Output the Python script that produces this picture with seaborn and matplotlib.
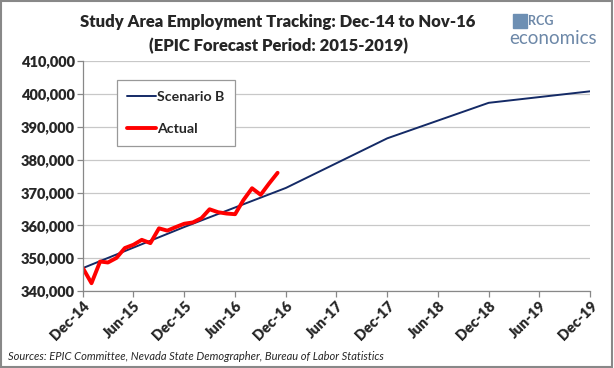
import matplotlib
matplotlib.use("Agg")
import matplotlib.pyplot as plt
import matplotlib.ticker as mticker
import numpy as np
import pandas as pd
import seaborn as sns

# Scenario B forecast (annual points)
scenario_dates = pd.to_datetime(["2014-12-01", "2015-12-01", "2016-12-01",
                                 "2017-12-01", "2018-12-01", "2019-12-01"])
scenario_b = [347000, 359500, 371400, 386500, 397300, 400800]

# Actual monthly employment, Dec-14 .. Nov-16
actual_dates = pd.date_range("2014-12-01", periods=24, freq="MS")
actual = [347000, 342400, 349000, 348700, 350100, 353100,
          354100, 355600, 354600, 359100, 358400, 359500,
          360500, 360900, 362200, 364900, 364000, 363600,
          363400, 367700, 371300, 369300, 372700, 376000]

tick_dates = pd.date_range("2014-12-01", "2019-12-01", freq="6MS")
tick_labels = [d.strftime("%b-%y") for d in tick_dates]

sns.set_theme(style="white")
plt.rcParams["font.family"] = ["Lato", "DejaVu Sans"]

fig = plt.figure(figsize=(6.14, 3.68), dpi=100)
ax = fig.add_axes([0.135, 0.209, 0.826, 0.625])

sns.lineplot(x=scenario_dates, y=scenario_b, ax=ax, color="#142a66",
             linewidth=1.4, label="Scenario B")
sns.lineplot(x=actual_dates, y=actual, ax=ax, color="#ff0000",
             linewidth=2.8, label="Actual", solid_joinstyle="round",
             solid_capstyle="round")

ax.set_xlim(tick_dates[0], tick_dates[-1])
ax.set_ylim(340000, 410000)
ax.set_xlabel("")
ax.set_ylabel("")
ax.set_xticks(tick_dates)
ax.set_xticklabels(tick_labels, rotation=45, ha="right",
                   rotation_mode="anchor", fontsize=10.5, fontweight="heavy")
ax.yaxis.set_major_locator(mticker.MultipleLocator(10000))
ax.yaxis.set_major_formatter(mticker.StrMethodFormatter("{x:,.0f}"))
for lab in ax.get_yticklabels():
    lab.set_fontweight("heavy")
    lab.set_fontsize(10.5)

ax.grid(axis="y", color="#c8c8c8", linewidth=0.9)
ax.set_axisbelow(True)
for s in ["top", "right"]:
    ax.spines[s].set_visible(False)
for s in ["left", "bottom"]:
    ax.spines[s].set_color("#888888")
    ax.spines[s].set_linewidth(0.9)
ax.tick_params(axis="both", which="major", direction="out", length=4,
               width=0.9, color="#888888", bottom=True, left=True, pad=2)

leg = ax.legend(loc="upper left", bbox_to_anchor=(0.067, 0.917),
                fancybox=False, framealpha=1, edgecolor="#999999",
                prop={"weight": "bold", "size": 10.2}, handlelength=2.0,
                handletextpad=0.1, labelspacing=1.45, borderpad=0.75,
                borderaxespad=0)
leg.get_frame().set_linewidth(0.9)

fig.text(0.453, 0.94, "Study Area Employment Tracking: Dec-14 to Nov-16",
         ha="center", va="center", fontsize=12, fontweight="heavy")
fig.text(0.453, 0.875, "(EPIC Forecast Period: 2015-2019)",
         ha="center", va="center", fontsize=12, fontweight="heavy")

# logo
fig.patches.append(plt.Rectangle((0.836, 0.925), 0.022, 0.037,
                                 transform=fig.transFigure,
                                 color="#6d8fb3", zorder=5))
fig.text(0.86, 0.943, "RCG", ha="left", va="center", fontsize=9,
         fontweight="bold", color="#6d88a8")
fig.text(0.83, 0.895, "economics", ha="left", va="center", fontsize=13.5,
         color="#6d88a8")

fig.text(0.013, 0.03, "Sources: EPIC Committee, Nevada State Demographer, "
         "Bureau of Labor Statistics", ha="left", va="center",
         fontsize=8, style="italic")

fig.patches.append(plt.Rectangle((0.002, 0.003), 0.995, 0.993,
                                 transform=fig.transFigure, fill=False,
                                 edgecolor="#888888", linewidth=1.5))

fig.savefig("out.png", dpi=100)
